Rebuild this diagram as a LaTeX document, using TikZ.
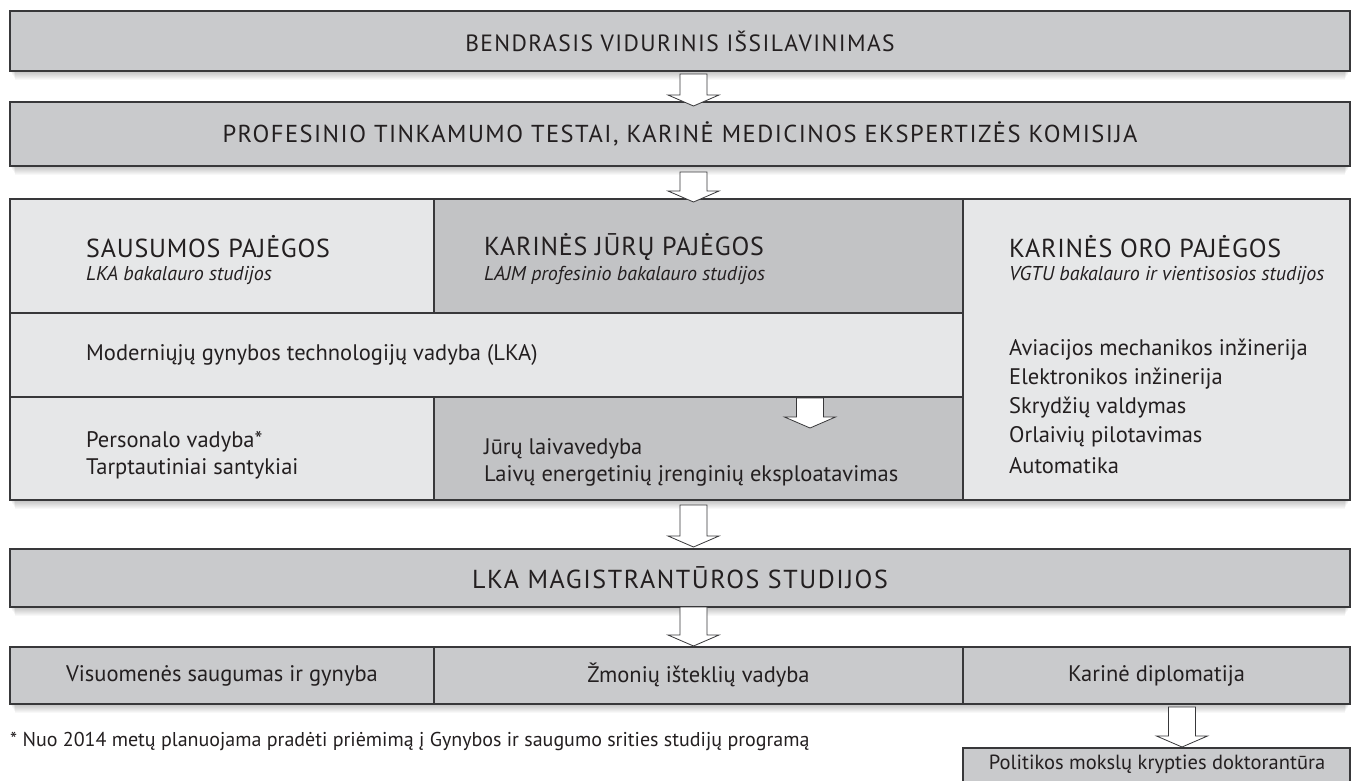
\documentclass[tikz,border=0pt]{standalone}
\usepackage{fontspec}
\setmainfont{PT Sans}
\newfontfamily\trackfont[LetterSpace=6]{PT Sans}
\newfontfamily\hdrfont[LetterSpace=3]{PT Sans}
\usetikzlibrary{calc}
\definecolor{boxgray}{HTML}{C9CACC}
\definecolor{cellgray}{HTML}{E6E7E8}
\definecolor{darkcell}{HTML}{C2C3C5}
\definecolor{linec}{HTML}{38383A}
\definecolor{txt}{HTML}{231F20}
\newcommand{\softshadow}[4]{\foreach \i in {1,...,9}{\fill[black,opacity=0.028] (#1+\i*0.6,#2+\i) rectangle (#3-\i*0.6,#4+\i);}}
\newcommand{\blockarrow}[2]{\draw[barrow] let \p1=(#1), \p2=(#2) in (\x1-13.5pt,\y1) -- (\x1+13.5pt,\y1) -- (\x1+13.5pt,\y2+11pt) -- (\x1+25.5pt,\y2+11pt) -- (\x1,\y2) -- (\x1-25.5pt,\y2+11pt) -- (\x1-13.5pt,\y2+11pt) -- cycle;}
\begin{document}
\begin{tikzpicture}[x=1pt,y=-1pt,
  graybox/.style={draw=linec,line width=1.1pt,fill=boxgray,inner sep=0pt,outer sep=0pt,text=txt},
  cell/.style={draw=linec,line width=1.1pt,fill=cellgray,inner sep=0pt,outer sep=0pt,anchor=north west},
  dcell/.style={cell,fill=darkcell},
  big/.style={font=\trackfont\fontsize{23.5}{27}\selectfont,text=txt},
  bigger/.style={font=\trackfont\fontsize{24.5}{28}\selectfont,text=txt},
  biggest/.style={font=\trackfont\fontsize{26}{30}\selectfont,text=txt},
  hdr/.style={font=\hdrfont\fontsize{26}{30}\selectfont,text=txt,anchor=west,inner sep=0pt},
  sub/.style={font=\fontsize{20}{24}\selectfont\itshape,text=txt,anchor=west,inner sep=0pt},
  body/.style={font=\fontsize{22.5}{26}\selectfont,text=txt,anchor=west,inner sep=0pt},
  small/.style={font=\fontsize{22.5}{26}\selectfont,text=txt},
  note/.style={font=\fontsize{20}{24}\selectfont,text=txt,anchor=west,inner sep=0pt},
  barrow/.style={draw=linec,fill=white,line width=0.8pt,line join=miter}]
\useasboundingbox (0,0) rectangle (1357,780);
\clip (0,0) rectangle (1357,780);
\fill[white] (0,0) rectangle (1357,780);

% shadows
\softshadow{10}{11}{1350}{71}
\softshadow{10}{102}{1350}{166}
\softshadow{10}{199}{1350}{500}
\softshadow{10}{549}{1350}{607}
\softshadow{10}{647}{1350}{704}

% top boxes
\node[graybox,minimum width=1340pt,minimum height=60pt,big] (b1) at (680,41) {BENDRASIS VIDURINIS IŠSILAVINIMAS};
\node[graybox,minimum width=1340pt,minimum height=64pt,bigger] (b2) at (680,134) {PROFESINIO TINKAMUMO TESTAI, KARINĖ MEDICINOS EKSPERTIZĖS KOMISIJA};

% grid
\node[cell,minimum width=424pt,minimum height=114pt] (c11) at (10,199) {};
\node[dcell,minimum width=529pt,minimum height=114pt] (c12) at (434,199) {};
\node[cell,minimum width=387pt,minimum height=301pt] (c13) at (963,199) {};
\node[cell,minimum width=953pt,minimum height=84pt] (c2) at (10,313) {};
\node[cell,minimum width=424pt,minimum height=103pt] (c31) at (10,397) {};
\node[dcell,minimum width=529pt,minimum height=103pt] (c32) at (434,397) {};

\node[hdr] (sp) at (86,247) {SAUSUMOS PAJĖGOS};
\node[sub] (sps) at (86,275) {LKA bakalauro studijos};
\node[hdr] (kj) at (484,247) {KARINĖS JŪRŲ PAJĖGOS};
\node[sub] (kjs) at (484,275) {LAJM profesinio bakalauro studijos};
\node[hdr] (ko) at (1009,247) {KARINĖS ORO PAJĖGOS};
\node[sub] (kos) at (1009,275) {VGTU bakalauro ir vientisosios studijos};

\node[body] (mg) at (86,355) {Moderniųjų gynybos technologijų vadyba (LKA)};
\node[body] (pv) at (86,442) {Personalo vadyba*};
\node[body] (ts) at (86,469) {Tarptautiniai santykiai};
\node[body] (jl) at (484,449) {Jūrų laivavedyba};
\node[body] (le) at (484,476) {Laivų energetinių įrenginių eksploatavimas};
\node[body] (o1) at (1009,350) {Aviacijos mechanikos inžinerija};
\node[body] (o2) at (1009,379) {Elektronikos inžinerija};
\node[body] (o3) at (1009,408) {Skrydžių valdymas};
\node[body] (o4) at (1009,437) {Orlaivių pilotavimas};
\node[body] (o5) at (1009,466) {Automatika};

% master box
\node[graybox,minimum width=1340pt,minimum height=58pt,biggest] (lka) at (680,578) {LKA MAGISTRANTŪROS STUDIJOS};

% bottom row
\node[graybox,minimum width=424pt,minimum height=57pt,anchor=north west,small] (m1) at (10,647) {Visuomenės saugumas ir gynyba};
\node[graybox,minimum width=529pt,minimum height=57pt,anchor=north west,small] (m2) at (434,647) {Žmonių išteklių vadyba};
\node[graybox,minimum width=387pt,minimum height=57pt,anchor=north west,small] (m3) at (963,647) {Karinė diplomatija};

% doctorate
\node[graybox,minimum width=387pt,minimum height=44pt,anchor=north west] (pd) at (963,748) {};
\node[font=\fontsize{20.5}{24}\selectfont,text=txt,inner sep=0pt] (pdt) at (1157,764) {Politikos mokslų krypties doktorantūra};

% footnote
\node[note] (fn) at (10,741) {* Nuo 2014 metų planuojama pradėti priėmimą į Gynybos ir saugumo srities studijų programą};

% arrows
\coordinate (a1s) at (693.5,74);  \coordinate (a1e) at (693.5,106);
\coordinate (a2s) at (693.5,172); \coordinate (a2e) at (693.5,202);
\coordinate (a3s) at (693.5,505); \coordinate (a3e) at (693.5,547);
\coordinate (a4s) at (693.5,607); \coordinate (a4e) at (693.5,646);
\coordinate (a5s) at (810,398);   \coordinate (a5e) at (810,428);
\coordinate (a6s) at (1182,707);  \coordinate (a6e) at (1182,747);
\blockarrow{a1s}{a1e}
\blockarrow{a2s}{a2e}
\blockarrow{a3s}{a3e}
\blockarrow{a4s}{a4e}
\blockarrow{a5s}{a5e}
\blockarrow{a6s}{a6e}
\end{tikzpicture}
\end{document}
